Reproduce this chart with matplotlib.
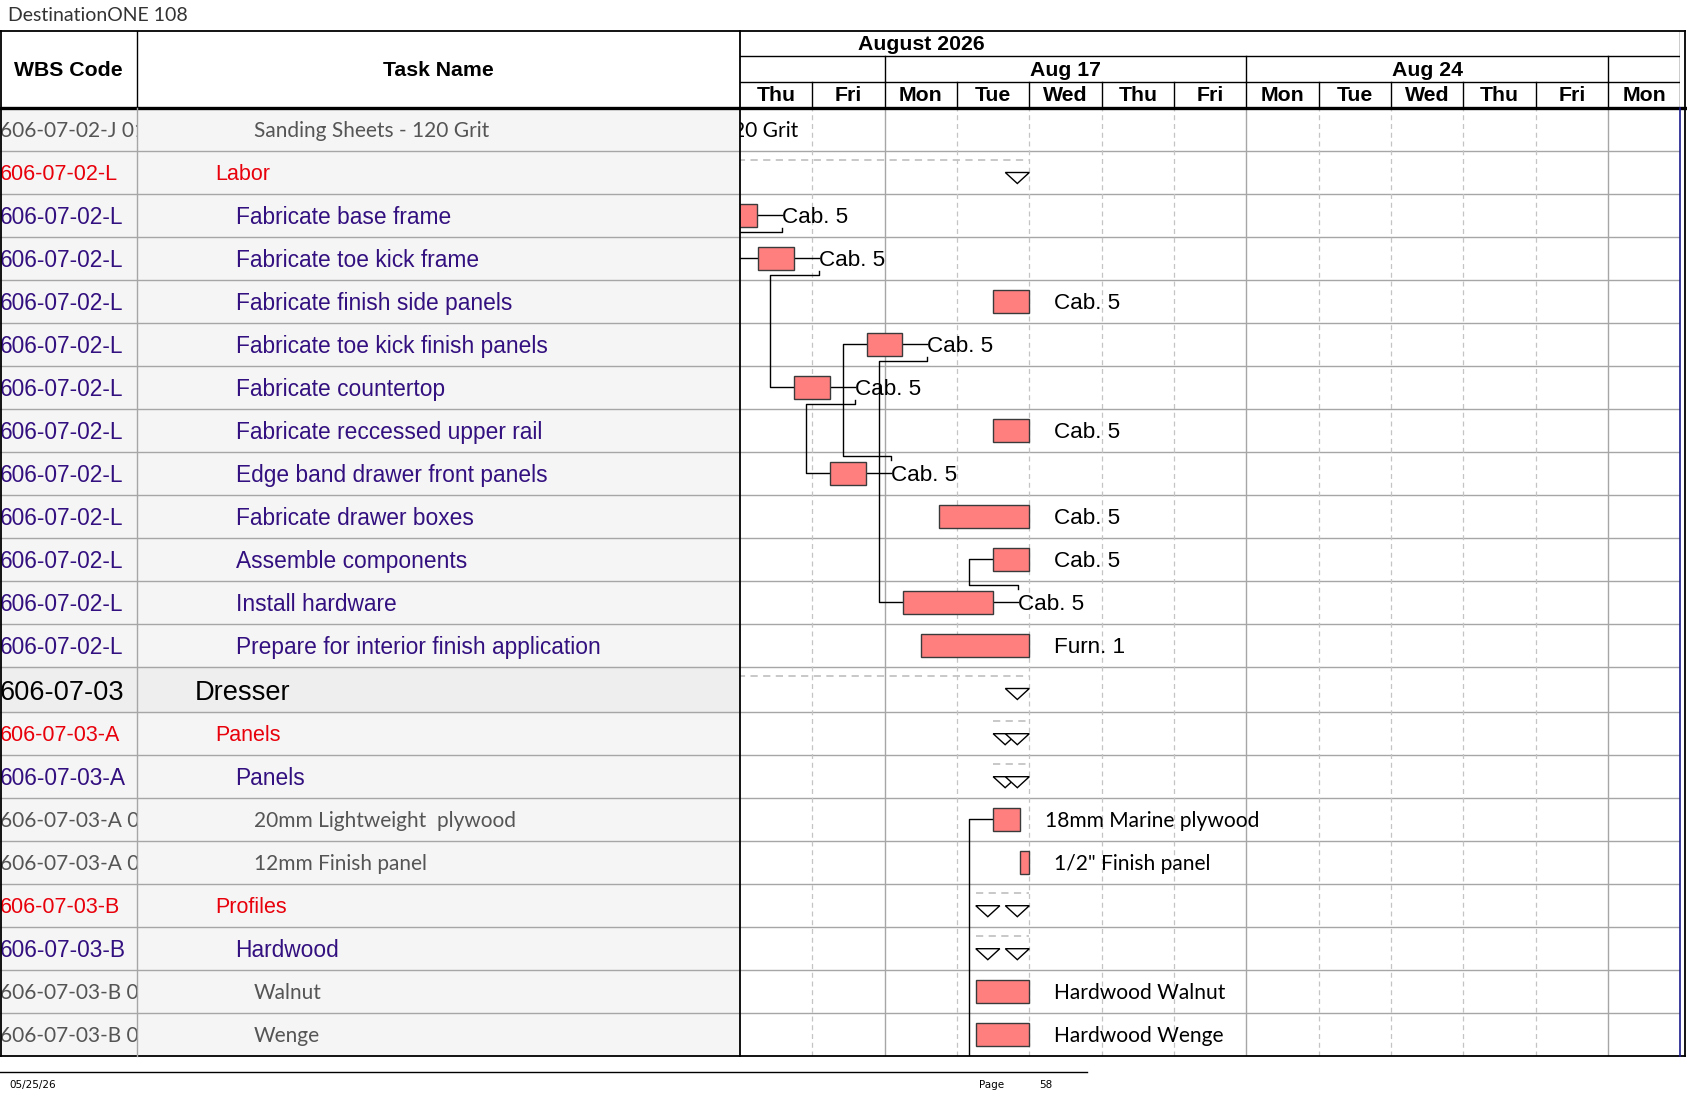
import numpy as np
import matplotlib
matplotlib.use("Agg")
import matplotlib.pyplot as plt
from matplotlib.patches import Rectangle, Polygon

W, H = 1687, 1097

# ---------------- data ----------------
wbs_codes = [
    "606-07-02-J 01", "606-07-02-L", "606-07-02-L", "606-07-02-L", "606-07-02-L",
    "606-07-02-L", "606-07-02-L", "606-07-02-L", "606-07-02-L", "606-07-02-L",
    "606-07-02-L", "606-07-02-L", "606-07-02-L", "606-07-03", "606-07-03-A",
    "606-07-03-A", "606-07-03-A 01", "606-07-03-A 02", "606-07-03-B", "606-07-03-B",
    "606-07-03-B 01", "606-07-03-B 02",
]
task_names = [
    "Sanding Sheets - 120 Grit", "Labor", "Fabricate base frame", "Fabricate toe kick frame",
    "Fabricate finish side panels", "Fabricate toe kick finish panels", "Fabricate countertop",
    "Fabricate reccessed upper rail", "Edge band drawer front panels", "Fabricate drawer boxes",
    "Assemble components", "Install hardware", "Prepare for interior finish application",
    "Dresser", "Panels", "Panels", "20mm Lightweight  plywood", "12mm Finish panel",
    "Profiles", "Hardwood", "Walnut", "Wenge",
]
row_kinds = [
    "item", "group", "task", "task", "task", "task", "task", "task", "task", "task",
    "task", "task", "task", "top", "group", "task", "item", "item", "group", "task",
    "item", "item",
]

month_label = "August 2026"
day_names = ["Thu", "Fri", "Mon", "Tue", "Wed", "Thu", "Fri", "Mon", "Tue", "Wed", "Thu", "Fri", "Mon"]
week_labels = ["Aug 17", "Aug 24"]
week_starts = [2, 7, 12]

# bars in working days from the first visible day (Thu Aug 13)
bar_rows = [0, 2, 3, 4, 5, 6, 7, 8, 9, 10, 11, 12, 16, 17, 20, 21]
bar_start = [-3.5, -0.3, 0.25, 3.5, 1.75, 0.75, 3.5, 1.25, 2.75, 3.5, 2.25, 2.5, 3.5, 3.87, 3.26, 3.26]
bar_end = [-2.8, 0.24, 0.74, 4.0, 2.24, 1.24, 4.0, 1.74, 4.0, 4.0, 3.5, 4.0, 3.87, 4.0, 4.0, 4.0]
bar_labels = [
    "Sanding Sheets - 120 Grit", "Cab. 5", "Cab. 5", "Cab. 5", "Cab. 5", "Cab. 5", "Cab. 5",
    "Cab. 5", "Cab. 5", "Cab. 5", "Cab. 5", "Furn. 1", "18mm Marine plywood",
    "1/2\" Finish panel", "Hardwood Walnut", "Hardwood Wenge",
]

summary_rows = [1, 13, 14, 15, 18, 19]
summary_start = [-3.0, -3.0, 3.5, 3.5, 3.26, 3.26]
summary_end = [4.0, 4.0, 4.0, 4.0, 4.0, 4.0]
summary_marks = [1, 1, 2, 2, 2, 2]

# dependency links (predecessor row -> successor row), None = from a row below the page
link_from = [2, 3, 6, 8, 5, 11, None]
link_to = [3, 6, 8, 5, 11, 10, 16]

# ---------------- layout ----------------
ROW_H = 43.0
row_h = np.array([ROW_H] * 13 + [45.2] + [ROW_H] * 8)
row_top = np.concatenate([[0], np.cumsum(row_h)[:-1]])
row_mid = row_top + row_h / 2
body_h = row_h.sum()

Y_TOP, Y_HEAD = 30.7, 107.5
Y_BOT = Y_HEAD + body_h
X_WBS, X_CHART, X_END, X_EDGE = 136.7, 740.0, 1680.3, 1685.0
DAY_PX = (X_END - X_CHART) / len(day_names)
TXT_DY = 2.2  # text sits slightly below the row middle

PURPLE = "#33107F"
RED = "#E8000B"
GRAY_TXT = "#555555"
GRID = "#A6A6A6"
DASH = "#C4C4C4"
BAR = "#FF7F7F"
ARIAL = "Liberation Sans"
CALIBRI = "Lato"

kind_style = {
    "item": dict(color=GRAY_TXT, family=CALIBRI, size=15.0, indent=254),
    "group": dict(color=RED, family=ARIAL, size=15.5, indent=215),
    "task": dict(color=PURPLE, family=ARIAL, size=16.4, indent=235.6),
    "top": dict(color="black", family=ARIAL, size=19.6, indent=195),
}


def box(x0, y0, x1, y1):
    return [x0 / W, 1 - y1 / H, (x1 - x0) / W, (y1 - y0) / H]


fig = plt.figure(figsize=(W / 100, H / 100), dpi=100)

ax_wbs = fig.add_axes(box(0, Y_HEAD, X_WBS, Y_BOT))
ax_task = fig.add_axes(box(X_WBS, Y_HEAD, X_CHART, Y_BOT))
ax_g = fig.add_axes(box(X_CHART, Y_HEAD, X_END, Y_BOT))
ax_hl = fig.add_axes(box(0, Y_TOP, X_CHART, Y_HEAD))
ax_ht = fig.add_axes(box(X_CHART, Y_TOP, X_END, Y_HEAD))

for a, x1 in [(ax_wbs, X_WBS), (ax_task, X_CHART - X_WBS)]:
    a.set_xlim(0, x1)
    a.set_ylim(body_h, 0)
    a.set_facecolor("#F5F5F5")
ax_g.set_xlim(0, len(day_names))
ax_g.set_ylim(body_h, 0)
ax_hl.set_xlim(0, X_CHART)
ax_hl.set_ylim(1, 0)
ax_ht.set_xlim(0, len(day_names))
ax_ht.set_ylim(3, 0)
for a in [ax_wbs, ax_task, ax_g, ax_hl, ax_ht]:
    a.set_xticks([])
    a.set_yticks([])
    for s in a.spines.values():
        s.set_visible(False)

# ---------------- table ----------------
for i, (code, name, kind) in enumerate(zip(wbs_codes, task_names, row_kinds)):
    st = kind_style[kind]
    dy = TXT_DY + (1.5 if kind == "top" else 0)
    if kind == "top":
        for a in [ax_wbs, ax_task]:
            a.add_patch(Rectangle((0, row_top[i]), 1000, row_h[i], color="#EEEEEE", zorder=0))
    ax_wbs.text(0, row_mid[i] + dy, code, color=st["color"], family=st["family"], fontsize=st["size"],
                va="center", ha="left", clip_on=True)
    ax_task.text(st["indent"] - X_WBS, row_mid[i] + dy, name, color=st["color"], family=st["family"],
                 fontsize=st["size"], va="center", ha="left", clip_on=True)

for a in [ax_wbs, ax_task, ax_g]:
    for y in row_top[1:]:
        a.axhline(y, color=GRID, lw=1.0, zorder=1)

# ---------------- gantt grid ----------------
for d in range(1, len(day_names)):
    if d in week_starts:
        ax_g.axvline(d, color=GRID, lw=1.0, zorder=1)
    else:
        ax_g.axvline(d, color=DASH, lw=0.9, ls=(0, (4, 3)), zorder=1)

BAR_H = 23
day_w = 1.0 / DAY_PX  # one pixel in days
GAP = 25 * day_w
TRI_W = 24 * day_w

bar_of = {r: (s, e) for r, s, e in zip(bar_rows, bar_start, bar_end)}

for r, s, e, lab in zip(bar_rows, bar_start, bar_end, bar_labels):
    ax_g.add_patch(Rectangle((s, row_mid[r] - BAR_H / 2), e - s, BAR_H, facecolor=BAR,
                             edgecolor="#3A3A3A", lw=1.0, zorder=3))
    fam = CALIBRI if row_kinds[r] == "item" else ARIAL
    fs = 15.1 if row_kinds[r] == "item" else 16.2
    ax_g.text(e + GAP, row_mid[r] + TXT_DY, lab, family=fam, fontsize=fs, color="black",
              va="center", ha="left", clip_on=True, zorder=4)

# summary rows: dashed span + hollow down-triangles
for r, s, e, n in zip(summary_rows, summary_start, summary_end, summary_marks):
    t = row_top[r]
    ax_g.plot([s, e], [t + 9, t + 9], color=DASH, lw=1.3, ls=(0, (4, 3)), zorder=2)
    xs = [e - TRI_W] if n == 1 else [s, e - TRI_W]
    for x0 in xs:
        ax_g.add_patch(Polygon([(x0, t + 22), (x0 + TRI_W, t + 22), (x0 + TRI_W / 2, t + 33)],
                               closed=True, facecolor="white", edgecolor="black", lw=1.0, zorder=3))

# dependency links
for p, q in zip(link_from, link_to):
    qs, _ = bar_of[q]
    tx = qs - 24 * day_w
    if p is None:
        ax_g.plot([tx, tx, qs], [body_h, row_mid[q], row_mid[q]], color="black", lw=1.0, zorder=2)
        continue
    ps, pe = bar_of[p]
    lx = pe + GAP
    ax_g.plot([pe, lx], [row_mid[p], row_mid[p]], color="black", lw=1.0, zorder=2)
    if q > p:
        y1 = row_mid[p] + BAR_H / 2 + 1.5
        y2 = y1 + 4
    else:
        y1 = row_mid[p] - BAR_H / 2 - 1.5
        y2 = y1 - 4
    ax_g.plot([lx, lx, tx, tx, qs], [y1, y2, y2, row_mid[q], row_mid[q]],
              color="black", lw=1.0, zorder=2)

# ---------------- header ----------------
ax_hl.text(X_WBS / 2, 0.52, "WBS Code", ha="center", va="center", family=ARIAL,
           fontweight="bold", fontsize=15.3)
ax_hl.text((X_WBS + X_CHART) / 2, 0.52, "Task Name", ha="center", va="center", family=ARIAL,
           fontweight="bold", fontsize=15.3)
ax_hl.axvline(X_WBS, color="black", lw=1.0)

ax_ht.text(2.5, 0.54, month_label, ha="center", va="center", family=ARIAL, fontweight="bold", fontsize=15.3)
for k, lab in enumerate(week_labels):
    ax_ht.text((week_starts[k] + week_starts[k + 1]) / 2, 1.54, lab, ha="center", va="center",
               family=ARIAL, fontweight="bold", fontsize=15.3)
for d, lab in enumerate(day_names):
    ax_ht.text(d + 0.5, 2.54, lab, ha="center", va="center", family=ARIAL, fontweight="bold", fontsize=15.3)
for d in range(1, len(day_names)):
    ax_ht.plot([d, d], [2, 3], color="black", lw=1.0)
for d in week_starts:
    ax_ht.plot([d, d], [1, 2], color="black", lw=1.0)
ax_ht.plot([len(day_names)] * 2, [0, 3], color="black", lw=1.0)
ax_ht.axhline(1, color="black", lw=1.0)
ax_ht.axhline(2, color="black", lw=1.0)

# ---------------- frame, title, footer ----------------
ov = fig.add_axes([0, 0, 1, 1], zorder=10)
ov.set_xlim(0, W)
ov.set_ylim(H, 0)
ov.axis("off")
ov.patch.set_alpha(0)
ov.plot([0, X_EDGE], [Y_TOP, Y_TOP], color="black", lw=1.3)
ov.plot([0, X_EDGE], [Y_HEAD, Y_HEAD], color="black", lw=2.4)
ov.plot([0, X_EDGE], [Y_BOT, Y_BOT], color="black", lw=1.3)
ov.plot([1, 1], [Y_TOP, Y_BOT], color="black", lw=1.3)
ov.plot([X_CHART, X_CHART], [Y_TOP, Y_BOT], color="black", lw=1.3)
ov.plot([X_WBS, X_WBS], [Y_HEAD, Y_BOT], color=GRID, lw=1.0)
ov.plot([X_END, X_END], [Y_HEAD, Y_BOT], color="#1A1A8C", lw=1.2)
ov.plot([X_EDGE, X_EDGE], [Y_TOP, Y_BOT], color="black", lw=1.3)

ov.text(8, 15.5, "DestinationONE 108", ha="left", va="center", family="Lato",
        fontsize=14, color="#333333")
ov.plot([0, 1087], [1071.6, 1071.6], color="black", lw=1.0)
narrow = ["Liberation Sans Narrow", "DejaVu Sans"]
ov.text(9, 1085, "05/25/26", family=narrow, fontsize=7.5, va="center")
ov.text(979, 1085, "Page", family=narrow, fontsize=7.5, va="center")
ov.text(1039, 1085, "58", family=narrow, fontsize=7.5, va="center")

fig.savefig("out.png", dpi=100)
